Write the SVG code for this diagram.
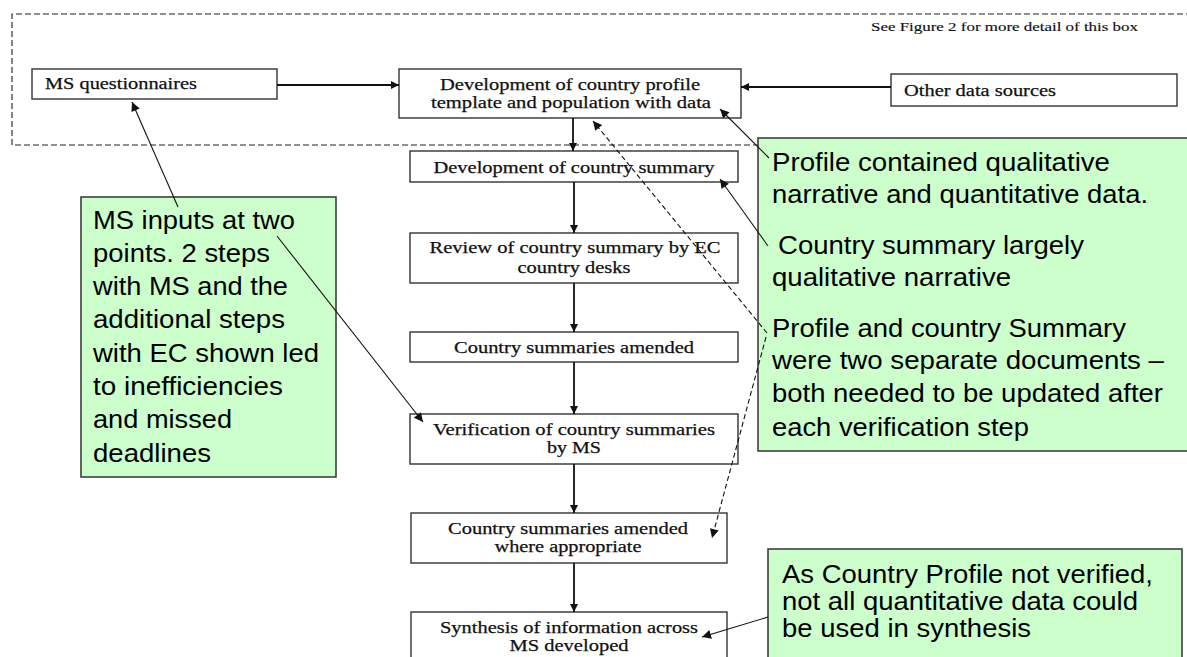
<svg xmlns="http://www.w3.org/2000/svg" width="1187" height="657" viewBox="0 0 1187 657">
<style>
.bg{fill:#fff}
.box{fill:#fff;stroke:#333;stroke-width:1.4}
.note{fill:#ccffcc;stroke:#333;stroke-width:1.5}
.t{font-family:"Liberation Serif","Times New Roman",serif;font-size:17px;fill:#111;stroke:#111;stroke-width:0.25}
.tc{text-anchor:middle}
.n{font-family:"Liberation Sans",Arial,sans-serif;font-size:25.5px;fill:#000}
.flow{stroke:#111;stroke-width:1.8;fill:none}
.lead{stroke:#111;stroke-width:1.1;fill:none}
.dash{stroke:#111;stroke-width:1.1;fill:none;stroke-dasharray:5 3}
.frame{stroke:#222;stroke-width:1.1;fill:none;stroke-dasharray:6 3}
</style>
<defs>
<marker id="ah" viewBox="0 0 10 10" refX="10" refY="5" markerWidth="9" markerHeight="8" markerUnits="userSpaceOnUse" orient="auto">
<path d="M0,0 L10,5 L0,10 z" fill="#111"/>
</marker>
<marker id="ahl" viewBox="0 0 10 10" refX="10" refY="5" markerWidth="11" markerHeight="9" markerUnits="userSpaceOnUse" orient="auto">
<path d="M0,0 L10,5 L0,10 z" fill="#111"/>
</marker>
</defs>
<rect class="bg" x="0" y="0" width="1187" height="657"/>

<g id="frame">
<path class="frame" d="M1192,14 H12 V145 H1192"/>
<text class="t" x="871" y="31" style="font-size:13.5px;stroke-width:0.15" textLength="267" lengthAdjust="spacingAndGlyphs">See Figure 2 for more detail of this box</text>
</g>

<g id="ms-questionnaires">
<rect class="box" x="32" y="69" width="245" height="30"/>
<text class="t" x="45" y="89" textLength="152" lengthAdjust="spacingAndGlyphs">MS questionnaires</text>
</g>

<g id="dev-profile">
<rect class="box" x="399" y="69" width="342" height="49"/>
<text class="t tc" x="570" y="90" textLength="260" lengthAdjust="spacingAndGlyphs">Development of country profile</text>
<text class="t tc" x="571" y="108" textLength="280" lengthAdjust="spacingAndGlyphs">template and population with data</text>
</g>

<g id="other-sources">
<rect class="box" x="891" y="74" width="286" height="32"/>
<text class="t" x="904" y="96" textLength="152" lengthAdjust="spacingAndGlyphs">Other data sources</text>
</g>

<g id="dev-summary">
<rect class="box" x="410" y="151" width="328" height="31"/>
<text class="t tc" x="574" y="173" textLength="281" lengthAdjust="spacingAndGlyphs">Development of country summary</text>
</g>

<g id="review">
<rect class="box" x="410" y="233" width="328" height="50"/>
<text class="t tc" x="575" y="253" textLength="291" lengthAdjust="spacingAndGlyphs">Review of country summary by EC</text>
<text class="t tc" x="574" y="273" textLength="113" lengthAdjust="spacingAndGlyphs">country desks</text>
</g>

<g id="amended">
<rect class="box" x="410" y="332" width="328" height="30"/>
<text class="t tc" x="574" y="353" textLength="240" lengthAdjust="spacingAndGlyphs">Country summaries amended</text>
</g>

<g id="verification">
<rect class="box" x="410" y="414" width="328" height="50"/>
<text class="t tc" x="574" y="435" textLength="282" lengthAdjust="spacingAndGlyphs">Verification of country summaries</text>
<text class="t tc" x="574" y="453" textLength="54" lengthAdjust="spacingAndGlyphs">by MS</text>
</g>

<g id="amended-where">
<rect class="box" x="411" y="513" width="316" height="50"/>
<text class="t tc" x="568" y="534" textLength="240" lengthAdjust="spacingAndGlyphs">Country summaries amended</text>
<text class="t tc" x="568" y="552" textLength="147" lengthAdjust="spacingAndGlyphs">where appropriate</text>
</g>

<g id="synthesis">
<rect class="box" x="411" y="612" width="316" height="60"/>
<text class="t tc" x="569" y="633" textLength="258" lengthAdjust="spacingAndGlyphs">Synthesis of information across</text>
<text class="t tc" x="569" y="651" textLength="119" lengthAdjust="spacingAndGlyphs">MS developed</text>
</g>

<g id="note-ms-inputs">
<rect class="note" x="81" y="197" width="255" height="280"/>
<text class="n" x="93" y="229" textLength="202" lengthAdjust="spacingAndGlyphs">MS inputs at two</text>
<text class="n" x="93" y="262" textLength="177" lengthAdjust="spacingAndGlyphs">points. 2 steps</text>
<text class="n" x="93" y="295" textLength="195" lengthAdjust="spacingAndGlyphs">with MS and the</text>
<text class="n" x="93" y="328" textLength="192" lengthAdjust="spacingAndGlyphs">additional steps</text>
<text class="n" x="93" y="362" textLength="226" lengthAdjust="spacingAndGlyphs">with EC shown led</text>
<text class="n" x="93" y="395" textLength="190" lengthAdjust="spacingAndGlyphs">to inefficiencies</text>
<text class="n" x="93" y="428" textLength="139" lengthAdjust="spacingAndGlyphs">and missed</text>
<text class="n" x="93" y="462" textLength="118" lengthAdjust="spacingAndGlyphs">deadlines</text>
</g>

<g id="note-profile">
<rect class="note" x="758" y="138" width="440" height="313"/>
<text class="n" x="772" y="171" textLength="338" lengthAdjust="spacingAndGlyphs">Profile contained qualitative</text>
<text class="n" x="772" y="203" textLength="376" lengthAdjust="spacingAndGlyphs">narrative and quantitative data.</text>
<text class="n" x="778" y="254" textLength="306" lengthAdjust="spacingAndGlyphs">Country summary largely</text>
<text class="n" x="772" y="286" textLength="239" lengthAdjust="spacingAndGlyphs">qualitative narrative</text>
<text class="n" x="772" y="337" textLength="354" lengthAdjust="spacingAndGlyphs">Profile and country Summary</text>
<text class="n" x="772" y="369" textLength="392" lengthAdjust="spacingAndGlyphs">were two separate documents –</text>
<text class="n" x="772" y="402" textLength="391" lengthAdjust="spacingAndGlyphs">both needed to be updated after</text>
<text class="n" x="772" y="436" textLength="257" lengthAdjust="spacingAndGlyphs">each verification step</text>
</g>

<g id="note-synthesis">
<rect class="note" x="768" y="549" width="414" height="120"/>
<text class="n" x="782" y="583" textLength="371" lengthAdjust="spacingAndGlyphs">As Country Profile not verified,</text>
<text class="n" x="782" y="610" textLength="356" lengthAdjust="spacingAndGlyphs">not all quantitative data could</text>
<text class="n" x="782" y="637" textLength="249" lengthAdjust="spacingAndGlyphs">be used in synthesis</text>
</g>

<g id="connectors">
<path class="flow" d="M277,85 H399" marker-end="url(#ah)"/>
<path class="flow" d="M891,87 H741" marker-end="url(#ah)"/>
<path class="flow" d="M573,118 V151" marker-end="url(#ah)"/>
<path class="flow" d="M574,182 V233" marker-end="url(#ah)"/>
<path class="flow" d="M574,283 V332" marker-end="url(#ah)"/>
<path class="flow" d="M574,362 V414" marker-end="url(#ah)"/>
<path class="flow" d="M574,464 V513" marker-end="url(#ah)"/>
<path class="flow" d="M574,563 V612" marker-end="url(#ah)"/>
<path class="lead" d="M178,207 L132,102" marker-end="url(#ahl)"/>
<path class="lead" d="M277,236 L423,422" marker-end="url(#ahl)"/>
<path class="lead" d="M769,158 L720,109" marker-end="url(#ahl)"/>
<path class="lead" d="M768,246 L720,179" marker-end="url(#ahl)"/>
<path class="dash" d="M767,333 L593,121" marker-end="url(#ahl)"/>
<path class="dash" d="M766,337 L712,538" marker-end="url(#ahl)"/>
<path class="lead" d="M768,617 L702,637" marker-end="url(#ahl)"/>
</g>
</svg>
